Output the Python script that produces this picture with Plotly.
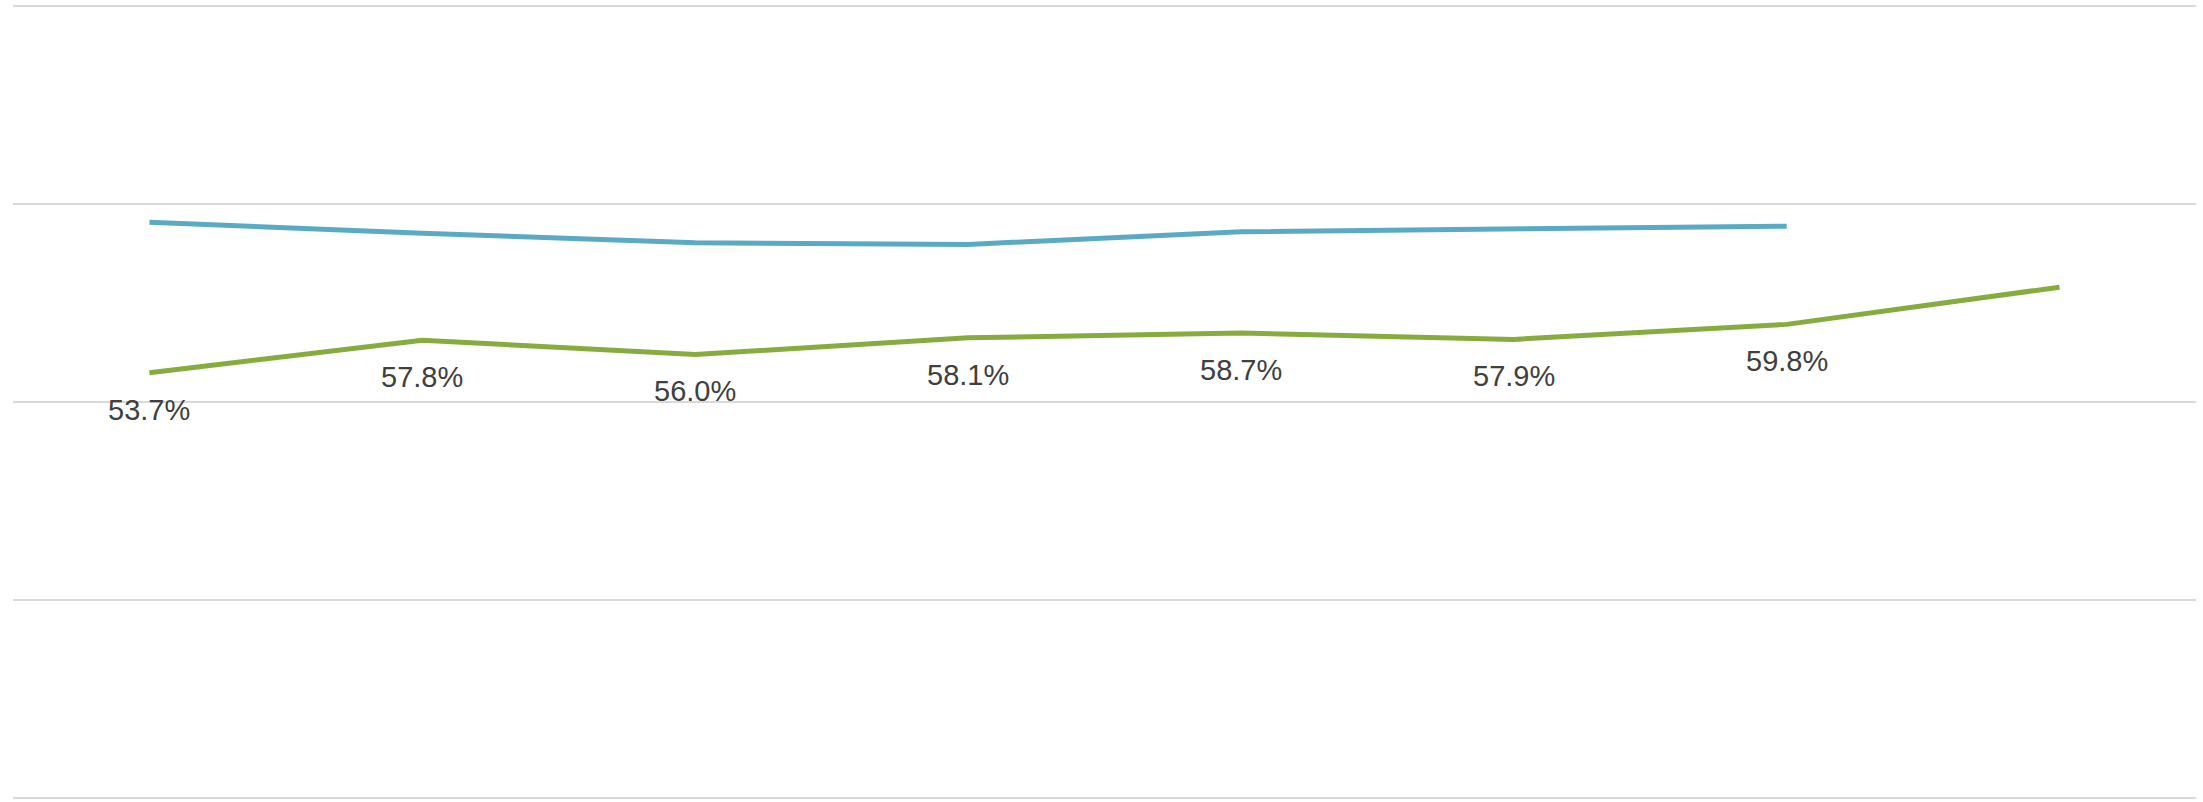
import plotly.graph_objects as go

# Periods (no axis labels are shown on the chart)
periods = ["P1", "P2", "P3", "P4", "P5", "P6", "P7", "P8"]

# Upper series (blue) - no data labels, one period shorter
blue_values = [72.7, 71.3, 70.1, 69.9, 71.5, 71.8, 72.2]

# Lower series (green) - labelled except the last point
green_values = [53.7, 57.8, 56.0, 58.1, 58.7, 57.9, 59.8, 64.5]
green_labels = ["53.7%", "57.8%", "56.0%", "58.1%", "58.7%", "57.9%", "59.8%", ""]

BLUE = "#5BAAC5"
GREEN = "#86AC3F"
LABEL_COLOR = "#404040"

fig = go.Figure()

fig.add_trace(
    go.Scatter(
        x=periods[: len(blue_values)],
        y=blue_values,
        mode="lines",
        line=dict(color=BLUE, width=5),
        hoverinfo="skip",
    )
)

fig.add_trace(
    go.Scatter(
        x=periods,
        y=green_values,
        mode="lines",
        line=dict(color=GREEN, width=5),
        hoverinfo="skip",
    )
)

# Data labels under the green line
for p, v, lab in zip(periods, green_values, green_labels):
    if not lab:
        continue
    fig.add_annotation(
        x=p,
        y=v,
        text=lab,
        showarrow=False,
        yanchor="middle",
        yshift=-37,
        font=dict(family="Liberation Sans, Arial, sans-serif", size=29, color=LABEL_COLOR),
    )

# small padding on the y range so the 0% and 100% gridlines are drawn
fig.update_layout(
    width=2203,
    height=802,
    margin=dict(l=13, r=7, t=2, b=0),
    paper_bgcolor="white",
    plot_bgcolor="white",
    showlegend=False,
    xaxis=dict(
        type="category",
        range=[-0.5, len(periods) - 0.5],
        showgrid=False,
        showticklabels=False,
        zeroline=False,
        showline=False,
        ticks="",
    ),
    yaxis=dict(
        range=[-0.5, 100.5],
        tick0=0,
        dtick=25,
        showgrid=True,
        gridcolor="#D9D9D9",
        gridwidth=2,
        showticklabels=False,
        zeroline=False,
        showline=False,
        ticks="",
    ),
)

fig.write_html(
    "out.html",
    config={"displayModeBar": False},
    post_script="document.body.style.margin='0';document.body.style.overflow='hidden';",
)
